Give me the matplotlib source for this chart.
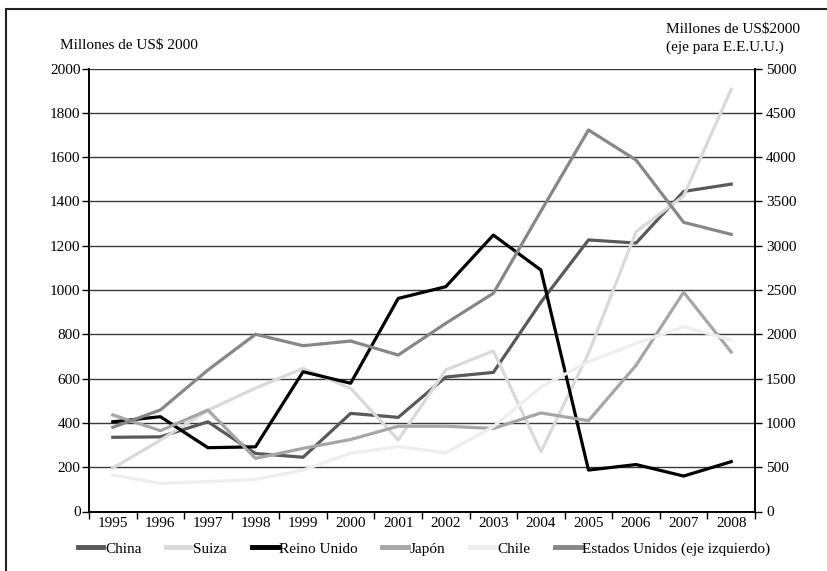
import numpy as np
import matplotlib.pyplot as plt
from matplotlib.patches import Rectangle

plt.rcParams['font.family'] = ['Liberation Serif', 'DejaVu Serif']

# datos
anios = ['1995', '1996', '1997', '1998', '1999', '2000', '2001',
         '2002', '2003', '2004', '2005', '2006', '2007', '2008']
china = [335, 337, 405, 262, 245, 443, 425, 607, 628, 945, 1226, 1212, 1445, 1478]
suiza = [196, 322, 457, 557, 646, 556, 323, 639, 725, 270, 714, 1263, 1425, 1906]
reino_unido = [405, 428, 288, 292, 631, 579, 962, 1015, 1248, 1090, 187, 212, 160, 225]
japon = [436, 365, 458, 240, 285, 325, 385, 385, 375, 445, 410, 660, 990, 720]
chile = [165, 127, 135, 145, 187, 263, 293, 265, 383, 562, 676, 759, 834, 774]
eeuu = [950, 1146, 1597, 2000, 1871, 1924, 1766, 2124, 2463, 3390, 4306, 3967, 3264, 3128]  # eje derecho

fig = plt.figure(figsize=(8.27, 5.71), dpi=100)
ax = fig.add_axes([89/827, 1-511.5/571, (755-89)/827, (511.5-68.5)/571])
ax2 = ax.twinx()

x = np.arange(len(anios)) + 0.5
lw = 2.3
l1, = ax.plot(x, china, color='#595959', lw=lw, label='China')
l2, = ax.plot(x, suiza, color='#d9d9d9', lw=lw, label='Suiza')
l3, = ax.plot(x, reino_unido, color='black', lw=lw, label='Reino Unido')
l4, = ax.plot(x, japon, color='#a6a6a6', lw=lw, label='Japón')
l5, = ax.plot(x, chile, color='#eeeeee', lw=lw, label='Chile')
l6, = ax2.plot(x, eeuu, color='#878787', lw=lw, label='Estados Unidos (eje izquierdo)')

# ejes
ax.set_xlim(0, len(anios))
ax.set_ylim(0, 2000)
ax2.set_ylim(0, 5000)
ax.set_yticks(np.arange(0, 2001, 200))
ax2.set_yticks(np.arange(0, 5001, 500))
ax.set_xticks(np.arange(0, len(anios) + 1))
ax.set_xticklabels([])
ax.set_xticks(x, minor=True)
ax.set_xticklabels(anios, minor=True)
ax.tick_params(axis='x', which='major', length=5, width=1, direction='out')
ax.tick_params(axis='x', which='minor', length=0, labelsize=11, pad=4)
ax.tick_params(axis='y', length=5, width=1, labelsize=11, pad=1)
ax2.tick_params(axis='y', length=5, width=1, labelsize=11, pad=3)

for a in (ax, ax2):
    a.spines['top'].set_visible(False)
    for s in ('left', 'right', 'bottom'):
        a.spines[s].set_linewidth(1.2)
ax.yaxis.grid(True, color='#3a3a3a', lw=1)
ax.set_axisbelow(True)

fig.text(60/827, 1-45/571, 'Millones de US$ 2000', fontsize=11, va='center', ha='left')
fig.text(666/827, 1-29/571, 'Millones de US$2000', fontsize=11, va='center', ha='left')
fig.text(666/827, 1-47/571, '(eje para E.E.U.U.)', fontsize=11, va='center', ha='left')

leg = fig.legend(handles=[l1, l2, l3, l4, l5, l6], loc='center', ncol=6,
                 bbox_to_anchor=(424/827, 1-549/571), frameon=False, fontsize=11,
                 handlelength=1.7, handletextpad=0.1, columnspacing=1.6)
for h in leg.get_lines():
    h.set_linewidth(3.5)

# marco
fig.patches.append(Rectangle((6/827, -0.1), 1.1, 1.1 - 9/571, transform=fig.transFigure,
                             fill=False, edgecolor='#222222', lw=1.5))

fig.savefig('out.png', dpi=100)
